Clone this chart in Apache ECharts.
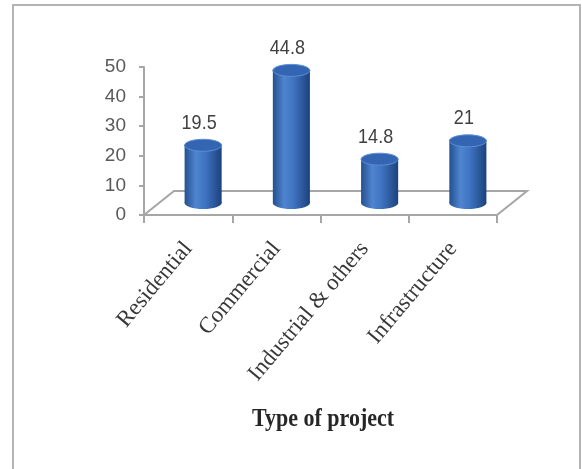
<!DOCTYPE html>
<html>
<head>
<meta charset="utf-8">
<script src="https://cdn.jsdelivr.net/npm/echarts@6/dist/echarts.min.js"></script>
<style>
  html, body { margin: 0; padding: 0; background: #fff; }
  #chart { width: 582px; height: 469px; }
</style>
</head>
<body>
<div id="chart"></div>
<script>
// data
var categories = ['Residential', 'Commercial', 'Industrial & others', 'Infrastructure'];
var values = [19.5, 44.8, 14.8, 21];
var valueLabels = ['19.5', '44.8', '14.8', '21'];
var yTicks = [0, 10, 20, 30, 40, 50];

// 3D depth offset of the floor (px)
var DX = 30, DY = -24;

var myChart = echarts.init(document.getElementById('chart'));

var option = {
    backgroundColor: '#fff',
    animation: false,
    graphic: [{
        type: 'rect',
        shape: { x: 13, y: 5, width: 567, height: 480 },
        style: { fill: 'none', stroke: '#b4b4b4', lineWidth: 2 },
        z: 0
    }, {
        type: 'text',
        x: 323,
        y: 420,
        scaleY: 1.12,
        style: {
            text: 'Type of project',
            font: 'bold 22px "Liberation Serif"',
            fill: '#262626',
            align: 'center',
            verticalAlign: 'middle'
        }
    }],
    grid: {
        left: 144,
        right: 85,
        top: 67,
        bottom: 254
    },
    xAxis: {
        type: 'category',
        data: categories,
        axisLine: { lineStyle: { color: '#a6a6a6', width: 2 } },
        axisTick: { show: true, length: 8, lineStyle: { color: '#a6a6a6', width: 2 } },
        axisLabel: {
            interval: 0,
            rotate: 50,
            margin: 30,
            fontFamily: 'Liberation Serif',
            fontSize: 23,
            color: '#383838'
        },
        splitLine: { show: false }
    },
    yAxis: {
        type: 'value',
        min: yTicks[0],
        max: yTicks[yTicks.length - 1],
        interval: 10,
        axisLine: { show: true, lineStyle: { color: '#a6a6a6', width: 2 } },
        axisTick: { show: true, length: 5, lineStyle: { color: '#a6a6a6', width: 2 } },
        axisLabel: {
            margin: 18,
            fontFamily: 'Liberation Sans',
            fontSize: 19,
            color: '#595959'
        },
        splitLine: { show: false }
    },
    series: [{
        // floor of the 3D plot
        type: 'custom',
        z: 1,
        silent: true,
        data: [[0, 0]],
        renderItem: function (params, api) {
            var cs = params.coordSys;
            var y0 = api.coord([0, 0])[1];
            var x0 = cs.x, x1 = cs.x + cs.width;
            return {
                type: 'polygon',
                shape: {
                    points: [[x0, y0], [x1, y0], [x1 + DX, y0 + DY], [x0 + DX, y0 + DY]]
                },
                style: { fill: '#fff', stroke: '#a6a6a6', lineWidth: 2 }
            };
        }
    }, {
        // cylinders
        type: 'custom',
        z: 3,
        data: values.map(function (v, i) { return [i, v]; }),
        renderItem: function (params, api) {
            var idx = api.value(0);
            var v = api.value(1);
            var base = api.coord([idx, 0]);
            var top = api.coord([idx, v]);
            var band = api.size([1, 0])[0];
            var w = band * 0.42;
            var ry = 6;
            var cx = base[0] + DX / 2;
            var yb = base[1] + DY / 2;
            var yt = top[1] + DY / 2;
            var bodyFill = new echarts.graphic.LinearGradient(0, 0, 1, 0, [
                { offset: 0, color: '#24508f' },
                { offset: 0.3, color: '#4f84d0' },
                { offset: 0.55, color: '#3f74c2' },
                { offset: 1, color: '#1c427c' }
            ]);
            return {
                type: 'group',
                children: [{
                    type: 'ellipse',
                    shape: { cx: cx, cy: yb, rx: w / 2, ry: ry },
                    style: { fill: bodyFill }
                }, {
                    type: 'rect',
                    shape: { x: cx - w / 2, y: yt, width: w, height: yb - yt },
                    style: { fill: bodyFill }
                }, {
                    type: 'ellipse',
                    shape: { cx: cx, cy: yt, rx: w / 2, ry: ry },
                    style: { fill: '#3465b2', stroke: '#5d8fd6', lineWidth: 1 }
                }, {
                    type: 'text',
                    x: cx - 4,
                    y: yt - ry - 16,
                    scaleY: 1.1,
                    style: {
                        text: valueLabels[params.dataIndex],
                        font: '18px "Liberation Sans"',
                        fill: '#404040',
                        align: 'center',
                        verticalAlign: 'middle'
                    }
                }]
            };
        }
    }]
};

myChart.setOption(option);
window.addEventListener('resize', function () {
    myChart.resize();
});
</script>
</body>
</html>
